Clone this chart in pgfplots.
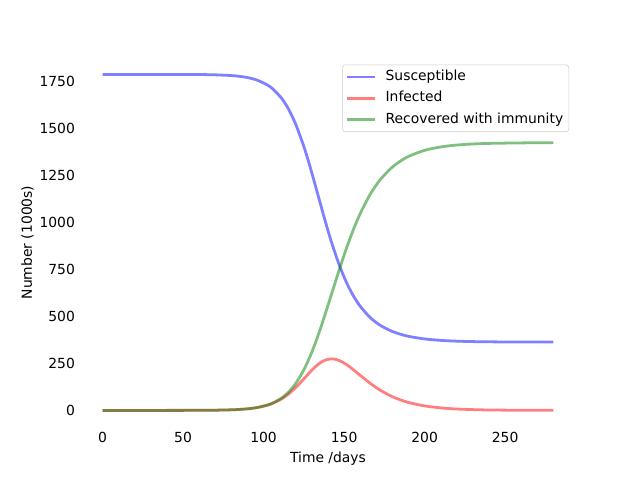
\documentclass[border=0pt]{standalone}
\usepackage{fontspec}
\setmainfont{DejaVu Sans}
\usepackage{pgfplots}
\pgfplotsset{compat=1.18}
\usepackage{pgfplotstable}
\pgfplotstableread{
t S I R
0 1786.0 0.00 0.00
20 1786.0 0.01 0.01
40 1785.9 0.06 0.06
60 1785.2 0.42 0.42
70 1783.7 1.14 1.15
80 1779.8 3.09 3.12
85 1775.8 5.08 5.13
90 1769.2 8.33 8.43
95.87 1755.9 14.95 15.15
102.16 1730.8 27.2 28.0
106.13 1705.7 39.2 41.0
111.5 1655.6 62.7 67.7
115.23 1605.4 85.4 95.2
118.18 1555.2 107.3 123.5
120.68 1505.1 128.1 152.8
124.92 1404.7 166.8 214.4
128.54 1304.4 201.0 280.6
131.87 1204.0 229.9 352.1
135.1 1103.7 252.5 429.8
138.37 1003.4 267.7 514.9
141.84 903.0 273.9 609.0
143.74 852.9 273.1 660.0
145.74 802.7 269.1 714.2
147.5 761.6 263.3 761.2
150.31 702.4 250.2 833.4
153.05 652.2 234.2 899.6
156.24 602.0 212.9 971.1
160.14 551.9 185.3 1048.8
165.22 501.7 150.4 1133.9
168.5 476.6 129.7 1179.7
172.6 451.5 106.5 1228.0
179.44 421.4 75.0 1289.6
186.41 401.3 51.5 1333.2
191.44 391.3 38.9 1355.8
198.71 381.3 25.8 1378.9
204.04 376.3 19.0 1390.8
211.94 371.2 11.97 1402.8
220 368.0 7.4 1410.5
230 365.7 4.12 1416.2
240 364.5 2.29 1419.2
260 363.4 0.70 1421.9
280 363.1 0.22 1422.7
}\sir
\begin{document}
\begin{tikzpicture}
\useasboundingbox (0,0) rectangle (460.8pt,345.6pt);
\begin{axis}[
  at={(57.6pt,38.016pt)}, anchor=south west,
  scale only axis, width=357.12pt, height=266.11pt,
  xmin=-14, xmax=294, ymin=-89.3, ymax=1875.3,
  axis line style={draw=none},
  major tick length=0pt,
  xtick={0,50,...,250}, ytick={0,250,...,1750},
  /pgf/number format/assume math mode=true,
  /pgf/number format/1000 sep={},
  tick label style={font=\fontsize{10}{12}\selectfont, inner sep=0pt},
  xticklabel style={anchor=north, yshift=-3.5pt},
  yticklabel style={anchor=east, xshift=-3.5pt},
  xlabel={Time /days}, ylabel={Number (1000s)},
  label style={font=\fontsize{10}{12}\selectfont, inner sep=0pt},
  xlabel style={at={(axis description cs:0.5,-0.0955)}, anchor=base},
  ylabel style={at={(axis description cs:-0.0969,0.5)}, anchor=base},
  legend style={at={(axis description cs:1,1)}, anchor=north east,
    xshift=-5pt, yshift=-5pt, draw=black!20, rounded corners=2pt,
    fill=white, font=\fontsize{10}{12}\selectfont,
    inner xsep=2.5pt, inner ysep=2.2pt, row sep=2.4pt, column sep=5pt,
    nodes={inner sep=1.5pt, text height=7.5pt, text depth=2.5pt}},
  legend cell align=left,
  legend image code/.code={\draw[#1, line width=2pt] (0pt,0pt) -- (20pt,0pt);},
]
\addplot[blue, draw opacity=0.5, line width=2pt, smooth] table[x=t,y=S]{\sir};
\addlegendentry{Susceptible}
\addplot[red, draw opacity=0.5, line width=2pt, smooth] table[x=t,y=I]{\sir};
\addlegendentry{Infected}
\addplot[green!50!black, draw opacity=0.5, line width=2pt, smooth] table[x=t,y=R]{\sir};
\addlegendentry{Recovered with immunity}
\end{axis}
\end{tikzpicture}
\end{document}
